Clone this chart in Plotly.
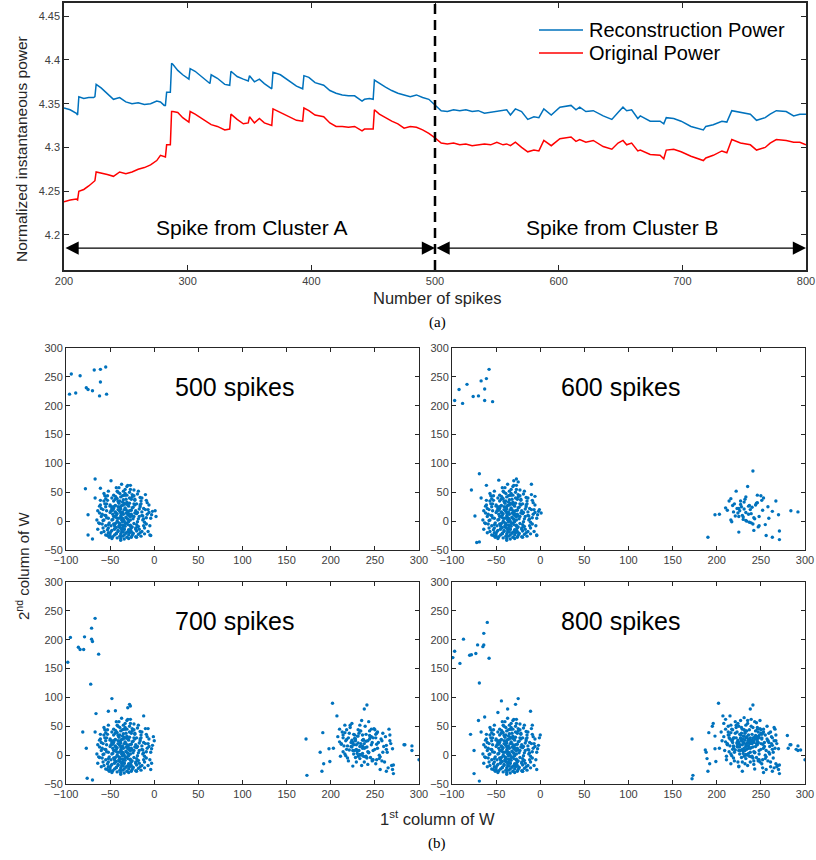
import plotly.graph_objects as go

W, H = 816, 860


def pxx(x):
    return x / W


def pyy(y):
    return 1 - y / H


# ---------------- (a) power curves ----------------
spike_idx = [200, 205, 210, 211, 212, 216, 220, 224, 225, 226, 230, 235, 240, 245, 250, 255, 260, 265,
             270, 275, 278, 281, 282, 283, 286, 287, 288, 292, 296, 301, 302, 306, 312, 318, 319, 324,
             330, 334, 335, 340, 345, 349, 350, 354, 358, 362, 368, 369, 375, 382, 388, 393, 394, 398,
             403, 410, 415, 420, 425, 430, 435, 441, 443, 447, 450, 451, 455, 460, 465, 470, 475, 480,
             485, 490, 495, 500, 505, 510, 515, 520, 525, 530, 535, 540, 545, 550, 555, 558, 561, 565,
             570, 575, 580, 584, 588, 594, 601, 606, 610, 614, 617, 622, 628, 636, 643, 648, 652, 655,
             659, 664, 666, 674, 682, 685, 687, 693, 699, 707, 717, 719, 725, 732, 736, 740, 747, 755,
             760, 767, 771, 776, 784, 790, 795, 800]

recon_power = [4.345, 4.343, 4.339, 4.337, 4.358, 4.356, 4.357, 4.357, 4.358, 4.372, 4.368, 4.362,
               4.355, 4.357, 4.352, 4.350, 4.351, 4.349, 4.350, 4.353, 4.352, 4.348, 4.348, 4.363,
               4.363, 4.396, 4.395, 4.388, 4.383, 4.378, 4.390, 4.387, 4.380, 4.373, 4.383, 4.379,
               4.372, 4.371, 4.387, 4.381, 4.378, 4.376, 4.382, 4.375, 4.378, 4.373, 4.367, 4.386,
               4.383, 4.376, 4.370, 4.367, 4.382, 4.380, 4.374, 4.371, 4.365, 4.362, 4.360, 4.359,
               4.359, 4.353, 4.355, 4.356, 4.355, 4.377, 4.373, 4.369, 4.365, 4.362, 4.360, 4.358,
               4.360, 4.357, 4.355, 4.349, 4.342, 4.341, 4.343, 4.342, 4.343, 4.341, 4.342, 4.339,
               4.340, 4.341, 4.342, 4.343, 4.337, 4.344, 4.341, 4.332, 4.335, 4.334, 4.344, 4.337,
               4.346, 4.347, 4.348, 4.343, 4.346, 4.341, 4.342, 4.336, 4.332, 4.340, 4.346, 4.342,
               4.343, 4.333, 4.336, 4.330, 4.330, 4.327, 4.334, 4.333, 4.330, 4.324, 4.320, 4.324,
               4.326, 4.330, 4.329, 4.342, 4.340, 4.338, 4.331, 4.334, 4.338, 4.342, 4.341, 4.336,
               4.338, 4.338]

orig_power = [4.238, 4.240, 4.241, 4.240, 4.250, 4.252, 4.256, 4.261, 4.262, 4.272, 4.271, 4.269,
              4.267, 4.272, 4.270, 4.272, 4.275, 4.277, 4.280, 4.285, 4.291, 4.289, 4.289, 4.303,
              4.303, 4.341, 4.341, 4.340, 4.334, 4.329, 4.341, 4.338, 4.332, 4.327, 4.326, 4.324,
              4.320, 4.321, 4.338, 4.332, 4.327, 4.328, 4.335, 4.328, 4.333, 4.328, 4.325, 4.344,
              4.340, 4.335, 4.331, 4.330, 4.345, 4.342, 4.337, 4.335, 4.328, 4.324, 4.324, 4.323,
              4.324, 4.319, 4.321, 4.321, 4.321, 4.343, 4.338, 4.334, 4.330, 4.327, 4.322, 4.324,
              4.323, 4.320, 4.316, 4.311, 4.305, 4.304, 4.305, 4.303, 4.304, 4.302, 4.303, 4.304,
              4.303, 4.306, 4.303, 4.304, 4.302, 4.306, 4.300, 4.295, 4.297, 4.296, 4.308, 4.302,
              4.310, 4.311, 4.312, 4.307, 4.309, 4.306, 4.308, 4.301, 4.298, 4.305, 4.308, 4.303,
              4.305, 4.296, 4.297, 4.292, 4.291, 4.287, 4.297, 4.298, 4.295, 4.290, 4.285, 4.288,
              4.291, 4.296, 4.294, 4.309, 4.305, 4.303, 4.297, 4.300, 4.305, 4.309, 4.308, 4.306,
              4.306, 4.303]

series_names = ["Reconstruction Power", "Original Power"]
x_ticks_a = [200, 300, 400, 500, 600, 700, 800]
y_ticks_a = [4.2, 4.25, 4.3, 4.35, 4.4, 4.45]
y_tick_text_a = ["4.2", "4.25", "4.3", "4.35", "4.4", "4.45"]
boundary_spike = 500
cluster_labels = ["Spike from Cluster A", "Spike from Cluster B"]

# ---------------- (b) scatter of W ----------------
panel_titles = ["500 spikes", "600 spikes", "700 spikes", "800 spikes"]

cluster_a_core = [
    (-35, 12), (-42, 5), (-28, 18), (-31, -3), (-38, 25), (-45, 8), (-22, 14), (-33, 30), (-40, -10), (-27, 2),
    (-36, 16), (-48, 22), (-30, -6), (-25, 9), (-39, 35), (-34, 0), (-44, 15), (-29, -15), (-37, 6), (-32, 20),
    (-50, 28), (-18, 4), (-41, -18), (-26, 38), (-35, -8), (-43, 40), (-30, 11), (-38, -22), (-21, -12), (-47, 3),
    (-33, 45), (-55, 10), (-24, 24), (-40, 19), (-36, -1), (-28, -20), (-46, -5), (-31, 33), (-52, -12), (-19, 15),
    (-37, 2), (-29, 26), (-42, 13), (-34, -14), (-23, -4), (-49, 18), (-39, 48), (-27, -9), (-44, 27), (-32, 7),
    (-58, 1), (-15, 30), (-36, -26), (-41, -2), (-25, 42), (-30, 17), (-53, 36), (-20, -17), (-45, -24), (-38, 9),
    (-33, 23), (-26, 12), (-43, -11), (-60, 22), (-12, -8), (-35, 52), (-48, -16), (-22, 36), (-40, 5), (-31, -28),
    (-37, -19), (-28, 50), (-17, 21), (-51, -3), (-44, 16), (-34, 31), (-24, -21), (-39, 24), (-56, 10), (-29, -1),
    (-46, 45), (-36, -7), (-10, 20), (-41, 34), (-32, 14), (-27, 55), (-54, 6), (-21, -14), (-38, -30), (-43, -22),
    (-30, 4), (-14, -18), (-49, -8), (-35, 28), (-25, -25), (-62, 14), (-40, 58), (-33, -4), (-19, 47), (-47, 12),
    (-28, 40), (-39, 17), (-52, -20), (-23, 8), (-34, -24), (-45, -13), (-16, 41), (-37, -15), (-30, 30), (-57, 35),
    (-42, -29), (-26, 19), (-36, 44), (-8, 32), (-48, 2), (-31, 60), (-20, -6), (-44, 38), (-38, 21), (-27, 62),
    (-33, -9), (-41, 50), (-64, -14), (-24, -22), (-35, 37), (-50, -26), (-13, 9), (-46, 22), (-29, -17), (-39, -6),
    (-22, 28), (-55, 39), (-32, 6), (-6, 15), (-43, 10), (-37, 27), (-18, -23), (-26, -12), (-59, -5), (-34, -31),
    (-40, 31), (-47, -27), (-11, -2), (-30, 17), (-53, 44), (-25, 46), (-38, -33), (-36, 5), (-42, 52), (-20, -28),
    (-45, 26), (-31, 45), (-27, -15), (-4, -25), (-61, 28), (-34, 20), (-16, 25), (-49, -18), (-23, 54), (-44, -4),
    (-37, 64), (-28, 31), (-55, -24), (-33, 48), (-9, 6), (-46, 8), (-21, 18), (-39, -11), (-31, -19), (-65, 2),
    (-26, -28), (-42, 0), (-18, -9), (-50, 26), (-35, 3), (-29, 13), (-3, 11), (-44, 43), (-24, 4), (-41, -16),
    (-32, -21), (-57, 48), (-15, 35), (-38, 14), (-48, -30), (-27, -7), (-67, 40), (-36, 33), (-22, 38), (-52, 5),
    (-30, 62), (-43, 58), (-12, 4), (-40, -8), (-34, -14), (-25, 23), (-47, 19), (-19, -1), (-39, -26), (-2, 17),
    (-44, 7), (-29, -24), (-54, 18), (-35, -19), (-17, -14), (-41, 25), (-31, 29), (-63, -3), (-26, -18), (-46, 35),
    (-37, 12), (-7, -18), (-33, 55), (-23, 30), (-51, -28), (-38, 42), (-28, 9), (-45, -14), (-14, 10), (-36, -12),
    (-30, 3), (-43, -21), (-21, -27), (-56, 30), (-34, 45), (-39, -4), (-48, 25), (-25, -10), (-11, -22), (-41, 20),
    (-32, 38), (-60, -20), (-27, 8), (-45, -8), (-36, 1), (-16, 28), (-53, -15), (-29, -30), (-42, 39), (-20, 13),
    (-58, 20), (-55, -8), (-60, 8), (-57, -18), (-54, 30), (-62, -4), (-56, 44), (-59, 12), (-53, -25), (-61, 36),
    (-12, 22), (-9, -5), (-14, 40), (-8, 12), (-16, -20), (-6, 28), (-11, -12), (-13, 2), (-10, 46), (-5, -8),
    (-52, 52), (-18, 52), (-50, -22), (-15, -26), (-57, 2), (-7, 20), (-64, 18), (-4, 5), (-55, 25), (-17, 8),
    (-20, 30), (-50, 15), (-19, -10), (-52, -6), (-23, 44), (-48, 40), (-14, 16), (-58, -12), (-9, 36), (-62, 26),
]

cluster_a_extra = {
    500: [(-78, 56), (-75, 11), (-75, -24), (-70, -31), (-67, 73), (-49, 70), (1, 18), (2, 8), (-5, -24), (-61, 57)],
    600: [(-78, 54), (-74, 9), (-72, -37), (-69, -36), (-69, 82), (-61, 62), (1, 14), (-4, -24), (-10, 64),
          (-47, 71), (-27, 73), (-30, 70), (-25, 68), (-1, 20), (-6, 43)],
    700: [(-81, 40), (-77, 12), (-76, -40), (-70, -43), (-48, 98), (-28, 88), (0, 25), (-12, 68), (-66, 72),
          (-3, -14), (-27, 85), (-44, 77), (-30, 82), (-7, 46), (-1, 32), (-52, 76)],
    800: [(-79, 36), (-75, 8), (-75, -32), (-69, -45), (-70, 60), (-44, 94), (-25, 98), (0, 35), (-11, 76),
          (-63, 66), (-20, -28), (-28, 88), (-37, 80), (-9, 52), (-1, 30), (-48, 74)],
}

top_outliers = {
    500: [(-96, 220), (-94, 255), (-89, 222), (-84, 252), (-77, 231), (-75, 228), (-70, 226), (-68, 262),
          (-62, 217), (-61, 241), (-61, 263), (-55, 267), (-54, 220)],
    600: [(-97, 209), (-92, 228), (-88, 204), (-83, 237), (-76, 216), (-70, 217), (-67, 243), (-63, 229),
          (-63, 209), (-61, 247), (-58, 263), (-54, 207)],
    700: [(-98, 161), (-95, 204), (-86, 187), (-84, 183), (-80, 183), (-79, 205), (-71, 220), (-71, 201),
          (-70, 197), (-67, 237), (-63, 175), (-72, 123)],
    800: [(-99, 169), (-97, 180), (-91, 159), (-87, 201), (-80, 173), (-78, 174), (-73, 176), (-71, 191),
          (-65, 188), (-64, 191), (-64, 211), (-60, 230), (-58, 168), (-69, 125)],
}

cluster_b_600 = [
    (190, -28), (198, 11), (203, 12), (210, 23), (214, 35), (216, 39), (218, 27), (222, 52), (223, 22), (216, 2),
    (217, -1), (225, 8), (225, -19), (227, 35), (231, 33), (235, 60), (233, 42), (237, 27), (233, 15), (239, -3),
    (241, 87), (242, -16), (246, 45), (250, 44), (252, 19), (248, 8), (255, -6), (256, -25), (267, 35), (263, 17),
    (270, 11), (271, -17), (271, -32), (263, -28), (284, 18), (292, 16), (259, 5),
    (220, 30), (228, 25), (236, 12), (244, 28), (230, 3), (238, 20), (226, 18), (242, 6), (232, 38), (248, -8),
    (224, 14), (234, 0), (240, 24), (229, 10), (245, 31), (237, -2), (221, 9), (251, 36), (231, 21), (243, 4),
    (219, 16), (236, 26), (247, -10), (227, 29), (239, 13), (233, 1), (253, 40), (225, 22), (241, -5), (230, 7),
    (246, 32), (212, 19), (258, 25),
]

cluster_b_700_add = [
    (172, 28), (173, -35), (188, 5), (191, 39), (192, -15), (202, 90), (199, -11), (238, 80), (283, 18),
    (292, 8), (207, 68), (300, -8),
    (210, 45), (214, 30), (216, 52), (218, 10), (212, 20), (219, -5), (221, 38), (223, 15), (224, 55), (226, 2),
    (228, 28), (229, -12), (231, 44), (232, 8), (234, 20), (235, -18), (236, 35), (238, 12), (239, 50), (240, -2),
    (242, 25), (243, 5), (244, 42), (246, 18), (247, -8), (248, 30), (250, 10), (251, -15), (252, 38), (254, 22),
    (255, 0), (257, 28), (258, -10), (260, 15), (262, 32), (264, 5), (265, -22), (266, 45), (268, 20), (269, -18),
    (208, 32), (211, -2), (213, 40), (215, 16), (217, 25), (220, -10), (222, 48), (225, 20), (227, 8), (230, 33),
    (233, -6), (237, 26), (241, 14), (245, -4), (249, 46), (253, 12), (256, -3), (259, 38), (261, -12), (263, 10),
    (267, 25), (270, -25), (214, 6), (218, 44), (226, 36), (233, 52), (236, 3), (243, 58), (247, 22), (251, 30),
    (229, 18), (234, 42), (238, -12), (244, 34), (231, -2), (224, 26), (252, -8), (240, 36), (236, 16), (228, -4),
]

cluster_b_800_add = [
    (187, 9), (189, -6), (280, 34), (281, 12), (290, 10), (295, 9), (196, 55), (198, 33), (195, 50), (172, -41),
    (205, 40), (208, 55), (210, 62), (212, 18), (215, 68), (217, 45), (219, 30), (221, 58), (223, 40), (225, 50),
    (227, 60), (229, 45), (231, 65), (233, 30), (235, 55), (237, 44), (239, 62), (241, 48), (243, 32), (245, 56),
    (247, 40), (249, 60), (251, 28), (253, 45), (255, 35), (257, 50), (259, 22), (261, 40), (263, 30), (265, 48),
    (267, -15), (268, -20), (206, 25), (209, 8), (211, -8), (213, 35), (216, -15), (218, 22), (220, 5), (222, 30),
    (224, -12), (226, 14), (228, 38), (230, 22), (232, -15), (234, 10), (236, 28), (238, 5), (240, 20), (242, -10),
    (244, 15), (246, 28), (248, 2), (250, 20), (252, -22), (254, 15), (256, 8), (258, 25), (260, 2), (262, 20),
    (264, -5), (266, 12), (230, 28), (232, 26), (234, 32), (236, 24), (238, 30), (240, 26), (242, 22), (244, 30),
    (246, 24), (248, 34), (233, 18), (237, 20), (241, 30), (245, 20), (239, 24), (235, 22), (231, 12), (227, 30),
    (223, 20), (219, 12), (215, 28), (213, 50), (225, -20), (229, -28), (243, -24), (249, -12), (253, -30),
    (261, -20), (265, 25), (228, 48), (232, 40), (246, 48), (250, 38),
]

cluster_b_by_panel = {
    500: [],
    600: cluster_b_600,
    700: cluster_b_600 + cluster_b_700_add,
    800: cluster_b_600 + cluster_b_700_add + cluster_b_800_add,
}
panel_counts = [500, 600, 700, 800]

x_ticks_b = [-100, -50, 0, 50, 100, 150, 200, 250, 300]
y_ticks_b = [-50, 0, 50, 100, 150, 200, 250, 300]

# ---------------- styling ----------------
BLUE = "#0072BD"
RED = "#FF0000"
AX = "#262626"
SANS = "Liberation Sans, Arial, sans-serif"
SERIF = "Liberation Serif, Times New Roman, serif"

fig = go.Figure()

fig.add_trace(go.Scatter(x=spike_idx, y=recon_power, mode="lines", name=series_names[0],
                         line=dict(color=BLUE, width=1.5), xaxis="x", yaxis="y", showlegend=False))
fig.add_trace(go.Scatter(x=spike_idx, y=orig_power, mode="lines", name=series_names[1],
                         line=dict(color=RED, width=1.5), xaxis="x", yaxis="y", showlegend=False))

for i, n in enumerate(panel_counts):
    pts = cluster_a_core + cluster_a_extra[n] + top_outliers[n] + cluster_b_by_panel[n]
    fig.add_trace(go.Scatter(x=[p[0] for p in pts], y=[p[1] for p in pts], mode="markers",
                             marker=dict(color=BLUE, size=3.4, line=dict(width=0)),
                             showlegend=False, xaxis=f"x{i + 2}", yaxis=f"y{i + 2}"))

axis_common = dict(showline=True, linecolor=AX, linewidth=1, mirror="ticks", ticks="inside",
                   tickcolor=AX, showgrid=False, zeroline=False, automargin=False,
                   tickfont=dict(family=SANS, size=11, color="#404040"))

layout = dict(
    width=W, height=H, margin=dict(l=0, r=0, t=0, b=0, autoexpand=False),
    paper_bgcolor="white", plot_bgcolor="white",
    showlegend=False,
)

layout["xaxis"] = dict(axis_common, domain=[pxx(64), pxx(806)], range=[200, 800], tickvals=x_ticks_a,
                       ticklen=5, anchor="y", linewidth=1.5)
layout["yaxis"] = dict(axis_common, domain=[pyy(270), pyy(3)], range=[4.16, 4.465], tickvals=y_ticks_a,
                       ticktext=y_tick_text_a, ticklen=5, anchor="x", linewidth=1.5)

col_dom = [[pxx(66), pxx(419)], [pxx(452), pxx(805)]]
row_dom = [[pyy(550), pyy(348)], [pyy(784), pyy(582)]]
for i in range(4):
    r, c = divmod(i, 2)
    layout[f"xaxis{i + 2}"] = dict(axis_common, domain=col_dom[c], range=[-100, 300], tickvals=x_ticks_b,
                                   ticklen=4, anchor=f"y{i + 2}")
    layout[f"yaxis{i + 2}"] = dict(axis_common, domain=row_dom[r], range=[-50, 300], tickvals=y_ticks_b,
                                   ticklen=4, anchor=f"x{i + 2}")

fig.update_layout(**layout)

# dashed boundary line
fig.add_shape(type="line", xref="x", yref="y domain", x0=boundary_spike, x1=boundary_spike, y0=0, y1=1,
              line=dict(color="black", width=2.5, dash="10px,6px"))

# legend (drawn manually to match the original sample-line length)
legend_rows = [(series_names[0], BLUE, 30), (series_names[1], RED, 53)]
annotations = []
for name, col, ypx in legend_rows:
    fig.add_shape(type="line", xref="paper", yref="paper", x0=pxx(539), x1=pxx(583), y0=pyy(ypx), y1=pyy(ypx),
                  line=dict(color=col, width=1.6))
    annotations.append(dict(x=pxx(587), y=pyy(ypx), xref="paper", yref="paper", text=name, showarrow=False,
                            xanchor="left", yanchor="middle", font=dict(family=SANS, size=20, color="black")))

arrow_y = 4.185
for x0, x1 in [(200, boundary_spike), (boundary_spike, 800)]:
    annotations.append(dict(x=x1, y=arrow_y, ax=x0, ay=arrow_y, xref="x", yref="y", axref="x", ayref="y",
                            text="", showarrow=True, arrowhead=2, startarrowhead=2, arrowside="end+start",
                            arrowsize=2.2, startarrowsize=2.2, arrowwidth=1.2, arrowcolor="black",
                            standoff=0, startstandoff=0))
annotations.append(dict(x=352, y=4.209, xref="x", yref="y", text=cluster_labels[0], showarrow=False,
                        xanchor="center", yanchor="middle", font=dict(family=SANS, size=21, color="black")))
annotations.append(dict(x=652, y=4.209, xref="x", yref="y", text=cluster_labels[1], showarrow=False,
                        xanchor="center", yanchor="middle", font=dict(family=SANS, size=21, color="black")))

annotations.append(dict(x=pxx(22), y=pyy(149), xref="paper", yref="paper", text="Normalized instantaneous power",
                        textangle=-90, showarrow=False, xanchor="center", yanchor="middle",
                        font=dict(family=SANS, size=15.5, color=AX)))
annotations.append(dict(x=pxx(437), y=pyy(298), xref="paper", yref="paper", text="Number of spikes",
                        showarrow=False, xanchor="center", yanchor="middle",
                        font=dict(family=SANS, size=16.5, color=AX)))
annotations.append(dict(x=pxx(437), y=pyy(322), xref="paper", yref="paper", text="(a)",
                        showarrow=False, xanchor="center", yanchor="middle",
                        font=dict(family=SERIF, size=15, color="black")))

for i, title in enumerate(panel_titles):
    annotations.append(dict(x=92, y=232, xref=f"x{i + 2}", yref=f"y{i + 2}", text=title, showarrow=False,
                            xanchor="center", yanchor="middle", font=dict(family=SANS, size=25, color="black")))

annotations.append(dict(x=pxx(22), y=pyy(566), xref="paper", yref="paper", text="2<sup>nd</sup> column of W",
                        textangle=-90, showarrow=False, xanchor="center", yanchor="middle",
                        font=dict(family=SANS, size=15, color=AX)))
annotations.append(dict(x=pxx(437), y=pyy(818), xref="paper", yref="paper", text="1<sup>st</sup> column of W",
                        showarrow=False, xanchor="center", yanchor="middle",
                        font=dict(family=SANS, size=16.5, color=AX)))
annotations.append(dict(x=pxx(437), y=pyy(843), xref="paper", yref="paper", text="(b)",
                        showarrow=False, xanchor="center", yanchor="middle",
                        font=dict(family=SERIF, size=15, color="black")))

fig.update_layout(annotations=annotations)

fig.write_html("out.html")
